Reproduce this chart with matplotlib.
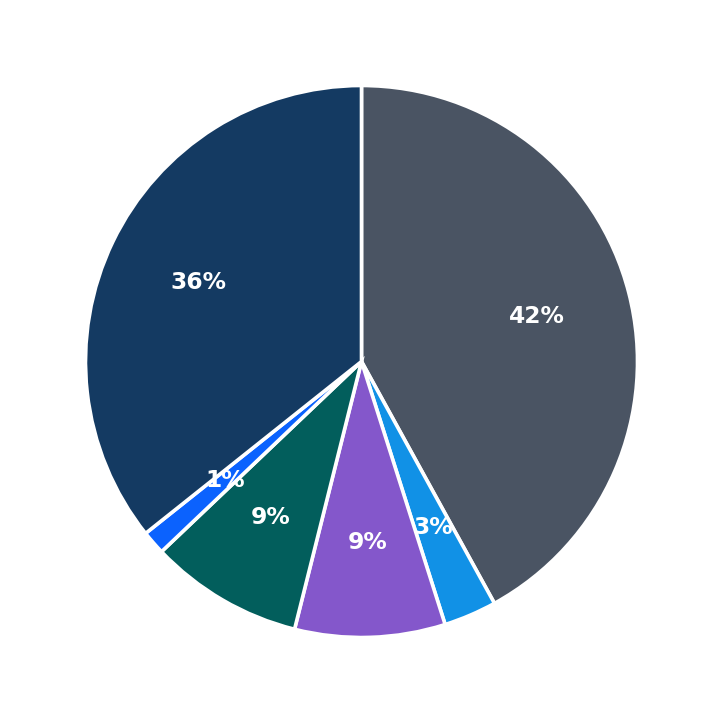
import matplotlib.pyplot as plt

# slice shares, clockwise from the top
labels = ["Gray", "Light blue", "Purple", "Teal", "Blue", "Navy"]
values = [42.0, 3.1, 8.8, 9.0, 1.4, 35.7]
colors = ["#4a5463", "#1191e6", "#8457cb", "#025e5c", "#0b62fe", "#143a62"]

fig = plt.figure(figsize=(7.23, 7.23), dpi=100)
ax = fig.add_axes([0, 0, 1, 1])

wedges, texts, autotexts = ax.pie(
    values,
    colors=colors,
    startangle=90,
    counterclock=False,
    autopct="%1.0f%%",
    pctdistance=0.655,
    wedgeprops=dict(edgecolor="white", linewidth=2.6),
    textprops=dict(color="white", fontsize=16.8, fontweight="bold"),
)

lim = 723 / 552
ax.set_xlim(-lim, lim)
ax.set_ylim(-lim, lim)
ax.set_aspect("equal")
ax.axis("off")

fig.savefig("out.png", dpi=100)
